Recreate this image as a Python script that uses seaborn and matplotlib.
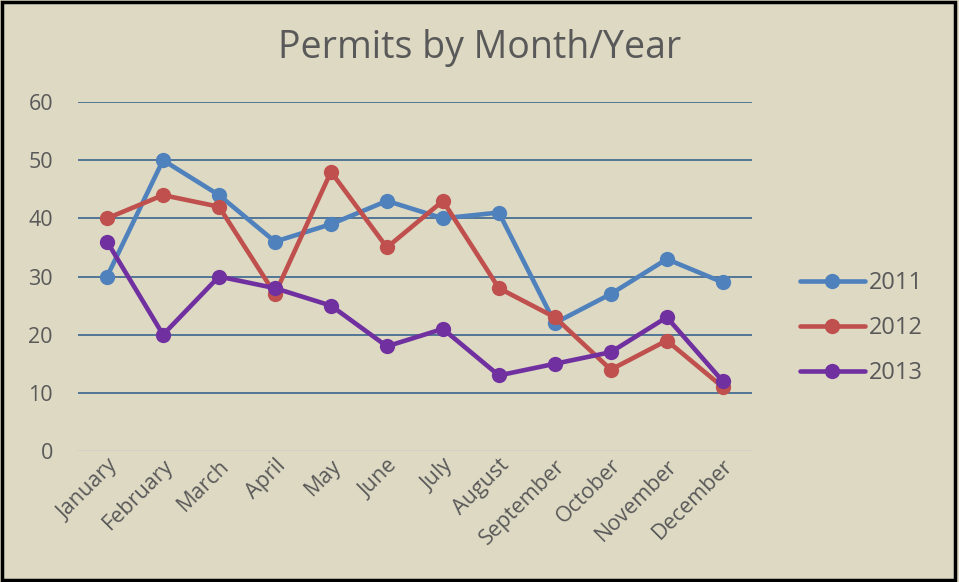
import numpy as np
import pandas as pd
import matplotlib
matplotlib.use('Agg')
import matplotlib.pyplot as plt
import seaborn as sns

# data
months = ['January', 'February', 'March', 'April', 'May', 'June',
          'July', 'August', 'September', 'October', 'November', 'December']
y2011 = [30, 50, 44, 36, 39, 43, 40, 41, 22, 27, 33, 29]
y2012 = [40, 44, 42, 27, 48, 35, 43, 28, 23, 14, 19, 11]
y2013 = [36, 20, 30, 28, 25, 18, 21, 13, 15, 17, 23, 12]
years = ['2011', '2012', '2013']
colors = ['#4F81BD', '#C0504D', '#7030A0']

df = pd.DataFrame({
    'Month': months * 3,
    'Permits': y2011 + y2012 + y2013,
    'Year': np.repeat(years, len(months)),
})

bg = '#DDD9C3'
sns.set_theme(style='white')
plt.rcParams['font.family'] = ['Open Sans', 'DejaVu Sans']

fig = plt.figure(figsize=(9.59, 5.82), dpi=100, facecolor=bg)
ax = fig.add_axes([0.0813, 0.225, 0.7027, 0.5997])
ax.set_facecolor(bg)

sns.lineplot(data=df, x='Month', y='Permits', hue='Year', palette=colors,
             marker='o', markersize=11, markeredgewidth=0, linewidth=3.3,
             sort=False, ax=ax)

ax.set_ylim(0, 60)
ax.set_xlim(-0.52, 11.52)
ax.set_yticks(range(0, 61, 10))
ax.set_xticks(range(len(months)))
ax.set_xticklabels(months, rotation=45, ha='right', rotation_mode='anchor')
ax.tick_params(axis='both', length=0, labelsize=15.5, labelcolor='#595959')
ax.tick_params(axis='y', pad=18)
ax.tick_params(axis='x', pad=3)
for y in range(10, 61, 10):
    ax.axhline(y, color='#2E5B8A', linewidth=1.1, zorder=0)
ax.axhline(0, color='#D0D0C8', linewidth=1.2, zorder=0)
for s in ax.spines.values():
    s.set_visible(False)
ax.set_xlabel('')
ax.set_ylabel('')

fig.text(0.5, 0.917, 'Permits by Month/Year', ha='center', va='center',
         fontsize=27, color='#595959')

leg = ax.legend(loc='center left', bbox_to_anchor=(1.071, 0.352), frameon=False,
                fontsize=17, handlelength=2.75, labelspacing=0.9,
                handletextpad=0.2, borderaxespad=0, borderpad=0)
for t in leg.get_texts():
    t.set_color('#595959')

# black outer border
fig.patches.append(plt.Rectangle((0.002, 0.003), 0.994, 0.993, transform=fig.transFigure,
                                 fill=False, edgecolor='black', linewidth=2.5))

fig.savefig('out.png', dpi=100, facecolor=bg)
